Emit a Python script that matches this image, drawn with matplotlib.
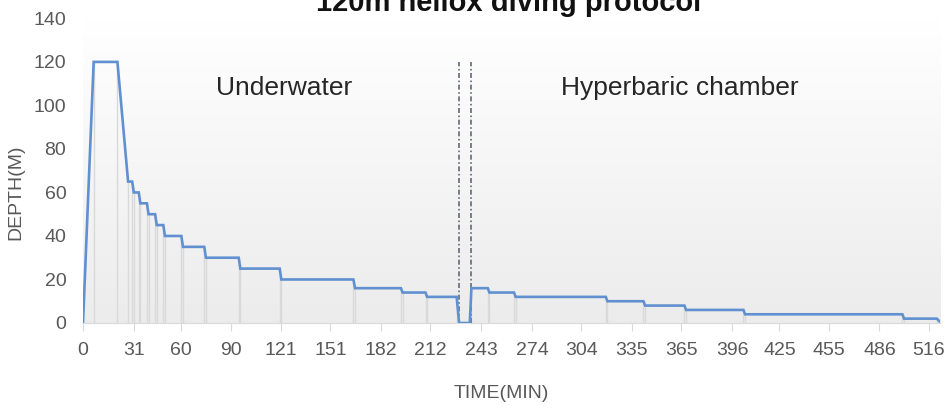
#!/usr/bin/env python3
"""120m heliox diving protocol: depth profile, underwater + chamber"""
import numpy as np, matplotlib
matplotlib.use("Agg")
import matplotlib.pyplot as plt

# profile points (min, m)
TIME = [0, 6.5, 21, 27.5, 30, 31, 34, 35, 39, 40, 44, 45, 49, 50, 60, 61, 74, 75, 95, 96,
        120, 121, 165, 166, 194, 195, 209, 210, 228, 229.5, 236, 237, 247, 248, 263, 264,
        319, 320, 342, 343, 367, 368, 403, 404, 500, 501, 521, 523]
DEPTH = [0, 120, 120, 65, 65, 60, 60, 55, 55, 50, 50, 45, 45, 40, 40, 35, 35, 30, 30, 25,
         25, 20, 20, 16, 16, 14, 14, 12, 12, 0, 0, 16, 16, 14, 14, 12,
         12, 10, 10, 8, 8, 6, 6, 4, 4, 2, 2, 0.5]
XTICKS = [0, 31, 60, 90, 121, 151, 182, 212, 243, 274, 304, 335, 365, 396, 425, 455, 486, 516]
YTICKS = [0, 20, 40, 60, 80, 100, 120, 140]
TRANSFER = [229.5, 236.5]   # surfacing -> chamber
PHASES = [("Underwater", 123, 105), ("Hyperbaric chamber", 364, 105)]

BLUE, GRAY, TXT = "#6190d0", "#d9d9d9", "#595959"
plt.rcParams.update({"font.family": ["Liberation Sans", "DejaVu Sans"]})

fig = plt.figure(figsize=(9.52, 4.09), dpi=100, facecolor="white")
ax = fig.add_axes([0.0872, 0.2103, 0.9003, 0.7447])
ax.set_xlim(0, 523); ax.set_ylim(0, 140)

# plot area gradient, white on top to light gray at the bottom
g = np.linspace(1.0, 0.925, 256)
grad = np.dstack([g, g, g]).reshape(-1, 1, 3)
ax.imshow(grad, extent=(0, 523, 0, 140), aspect="auto", origin="upper", zorder=0)

ax.vlines(TIME, 0, DEPTH, color=GRAY, lw=1.0, zorder=1)
ax.plot(TIME, DEPTH, color=BLUE, lw=1.9, zorder=3, solid_joinstyle="miter")
for t in TRANSFER:
    ax.plot([t, t], [0, 120], color="#5f6b7a", lw=1.2, ls=(0, (3, 1.5, 1, 1.5)), zorder=2)
for s, x, y in PHASES:
    ax.text(x, y, s, fontsize=19, color="#262626", ha="center", va="baseline")

for sp in ["top", "right", "left"]: ax.spines[sp].set_visible(False)
ax.spines["bottom"].set_color(GRAY)
ax.set_xticks(XTICKS); ax.set_yticks(YTICKS)
ax.tick_params(axis="x", length=6, color=GRAY, pad=8, labelsize=14, labelcolor=TXT)
ax.tick_params(axis="y", length=0, pad=12, labelsize=14, labelcolor=TXT)
ax.set_xlabel("TIME(MIN)", fontsize=14, color=TXT)
ax.set_ylabel("DEPTH(M)", fontsize=14, color=TXT)
ax.xaxis.set_label_coords(0.488, -0.205)
ax.yaxis.set_label_coords(-0.068, 0.43)

fig.text(0.534, 1 - 11/409, "120m heliox diving protocol", fontsize=21, fontweight="bold",
         color="#111111", ha="center", va="baseline")
fig.savefig("out.png", dpi=100, facecolor="white")
